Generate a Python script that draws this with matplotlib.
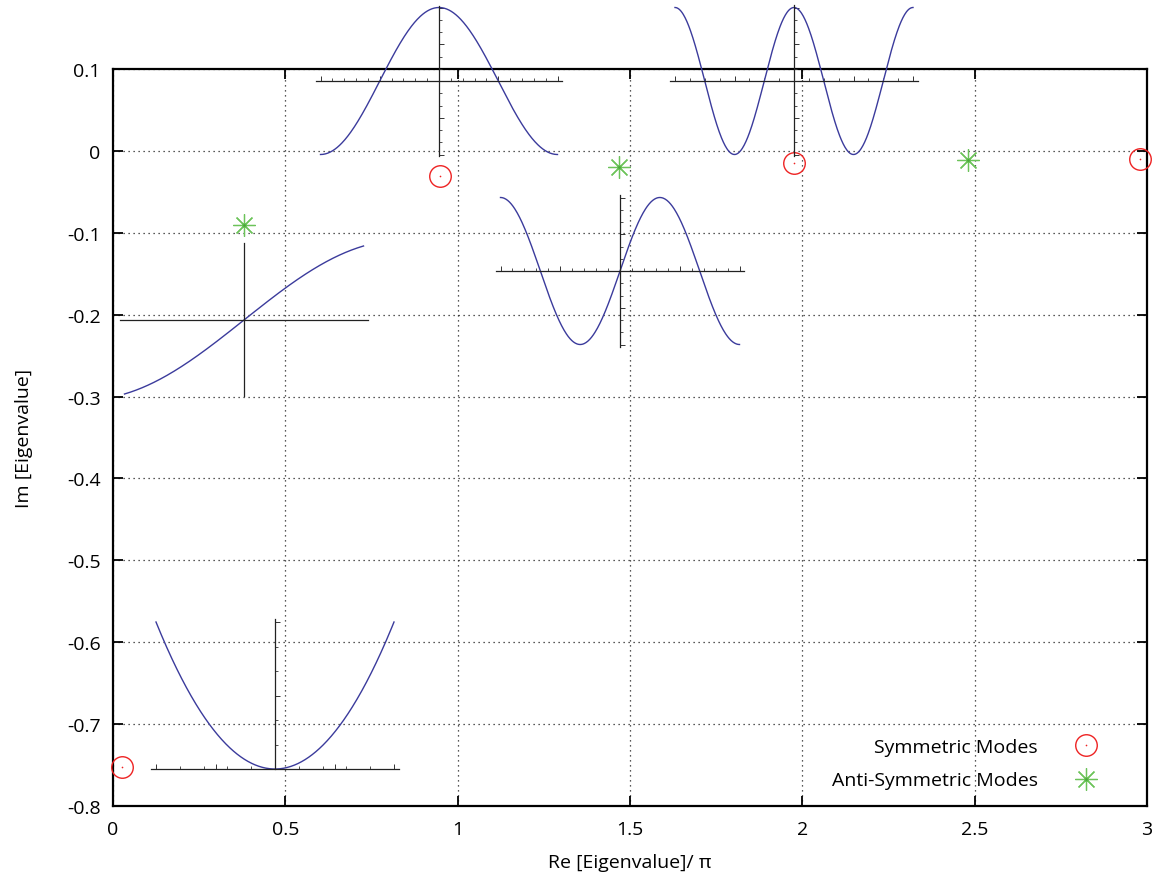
import numpy as np
import matplotlib
matplotlib.use("Agg")
import matplotlib.pyplot as plt
from matplotlib.ticker import MultipleLocator, FormatStrFormatter, NullLocator
from matplotlib.legend_handler import HandlerTuple

plt.rcParams['font.family'] = ['Open Sans', 'DejaVu Sans']
plt.rcParams['axes.unicode_minus'] = False

# ---- data: eigenvalues (Re/pi, Im) ----
sym_re = [0.026, 0.949, 1.976, 2.979]
sym_im = [-0.752, -0.031, -0.015, -0.010]
anti_re = [0.380, 1.468, 2.480]
anti_im = [-0.0905, -0.020, -0.011]

# ---- mode-shape insets: parity and wavenumber (in units of pi) ----
mode_kind = ['anti', 'sym', 'sym', 'anti', 'flat']
mode_k = [0.38, 1.0, 2.0, 1.5, 0.0]

# layout of each inset (pixels): centre x, centre y, half width, amplitude, y-extent, ticks
W, H = 1159, 879
inset_layout = [
    dict(cx=244, cy=321, hw=119.5, amp=74, ylo=-1.03, yhi=1.04, xt=None, yt=None),
    dict(cx=439, cy=82, hw=118.5, amp=73.5, ylo=-1.02, yhi=1.02, xt=0.1, yt=1/6),
    dict(cx=794, cy=82, hw=119, amp=73.5, ylo=-1.02, yhi=1.03, xt=0.125, yt=1/6),
    dict(cx=620, cy=272, hw=119.5, amp=73.5, ylo=-1.03, yhi=1.03, xt=0.1, yt=1/6),
    dict(cx=275, cy=770, hw=119, amp=147, ylo=0.0, yhi=1.02, xt=0.2, yt=1/6),
]

fs = 14
fig = plt.figure(figsize=(W/100, H/100), dpi=100)
L, R, T, B = 113, 1147, 70, 807
ax = fig.add_axes([L/W, 1-B/H, (R-L)/W, (B-T)/H])
ax.set_xlim(0, 3)
ax.set_ylim(-0.8, 0.1)
ax.xaxis.set_major_locator(MultipleLocator(0.5))
ax.yaxis.set_major_locator(MultipleLocator(0.1))
ax.xaxis.set_major_formatter(FormatStrFormatter('%g'))
ax.yaxis.set_major_formatter(FormatStrFormatter('%g'))
ax.tick_params(which='major', direction='in', length=7, width=1.3, top=True, right=True,
               labelsize=fs, colors='black')
ax.tick_params(axis='x', pad=10)
ax.tick_params(axis='y', pad=9)
for s in ax.spines.values():
    s.set_linewidth(1.6)
ax.grid(True, color='#222222', linestyle=(0, (1, 3)), linewidth=0.9)
ax.set_xlabel('Re [Eigenvalue]/ π', fontsize=fs, labelpad=11)
ax.set_ylabel('Im [Eigenvalue]', fontsize=fs, labelpad=24)

red = '#ee2222'
green = '#6cc35a'
c1, = ax.plot(sym_re, sym_im, linestyle='none', marker='o', markersize=15.5,
              markerfacecolor='none', markeredgecolor=red, markeredgewidth=1.0, clip_on=False, zorder=5)
d1, = ax.plot(sym_re, sym_im, linestyle='none', marker='o', markersize=1.2,
              markerfacecolor=red, markeredgecolor=red, markeredgewidth=0, clip_on=False, zorder=5)
s1, = ax.plot(anti_re, anti_im, linestyle='none', marker=(8, 2, 0), markersize=16,
              markeredgecolor=green, markerfacecolor=green, markeredgewidth=0.9, clip_on=False, zorder=5)
d2, = ax.plot(anti_re, anti_im, linestyle='none', marker='o', markersize=2,
              markerfacecolor='#4aa83a', markeredgewidth=0, clip_on=False, zorder=6)
leg = ax.legend([(c1, d1), (s1, d2)], ['Symmetric Modes', 'Anti-Symmetric Modes'],
                handler_map={tuple: HandlerTuple(ndivide=1, pad=0)},
                loc='lower right', bbox_to_anchor=(1123/W, 1-808/H), bbox_transform=fig.transFigure,
                frameon=False, markerfirst=False, fontsize=fs, handlelength=2.0,
                handletextpad=1.47, labelspacing=0.8, borderpad=0.4)

curve_col = '#3b3b9c'
for kind, k, lay in zip(mode_kind, mode_k, inset_layout):
    xe = 1.04
    left = lay['cx'] - xe*lay['hw']
    width = 2*xe*lay['hw']
    top = lay['cy'] - lay['yhi']*lay['amp']
    bottom = lay['cy'] - lay['ylo']*lay['amp']
    iax = fig.add_axes([left/W, 1-bottom/H, width/W, (bottom-top)/H])
    iax.set_facecolor('none')
    iax.set_xlim(-xe, xe)
    iax.set_ylim(lay['ylo'], lay['yhi'])
    t = np.linspace(-1, 1, 400)
    if kind == 'sym':
        y = np.cos(k*np.pi*t)
    elif kind == 'anti':
        y = np.sin(k*np.pi*t)/abs(np.sin(k*np.pi))
    else:
        y = t**2
    iax.plot(t, y, color=curve_col, lw=1.0, clip_on=False)
    for side in ['top', 'right']:
        iax.spines[side].set_visible(False)
    for side in ['left', 'bottom']:
        iax.spines[side].set_position('zero')
        iax.spines[side].set_linewidth(0.9)
        iax.spines[side].set_color('#222222')
    if lay['xt'] is None:
        iax.xaxis.set_major_locator(NullLocator())
        iax.yaxis.set_major_locator(NullLocator())
    else:
        iax.xaxis.set_major_locator(MultipleLocator(0.5))
        iax.xaxis.set_minor_locator(MultipleLocator(lay['xt']))
        iax.yaxis.set_major_locator(MultipleLocator(0.5))
        iax.yaxis.set_minor_locator(MultipleLocator(lay['yt']))
        iax.tick_params(which='major', direction='in', length=3.5, width=0.7, colors='#333333',
                        labelbottom=False, labelleft=False)
        iax.tick_params(which='minor', direction='in', length=2, width=0.6, colors='#333333')
    iax.set_xticklabels([])
    iax.set_yticklabels([])

fig.savefig('out.png', dpi=100)
